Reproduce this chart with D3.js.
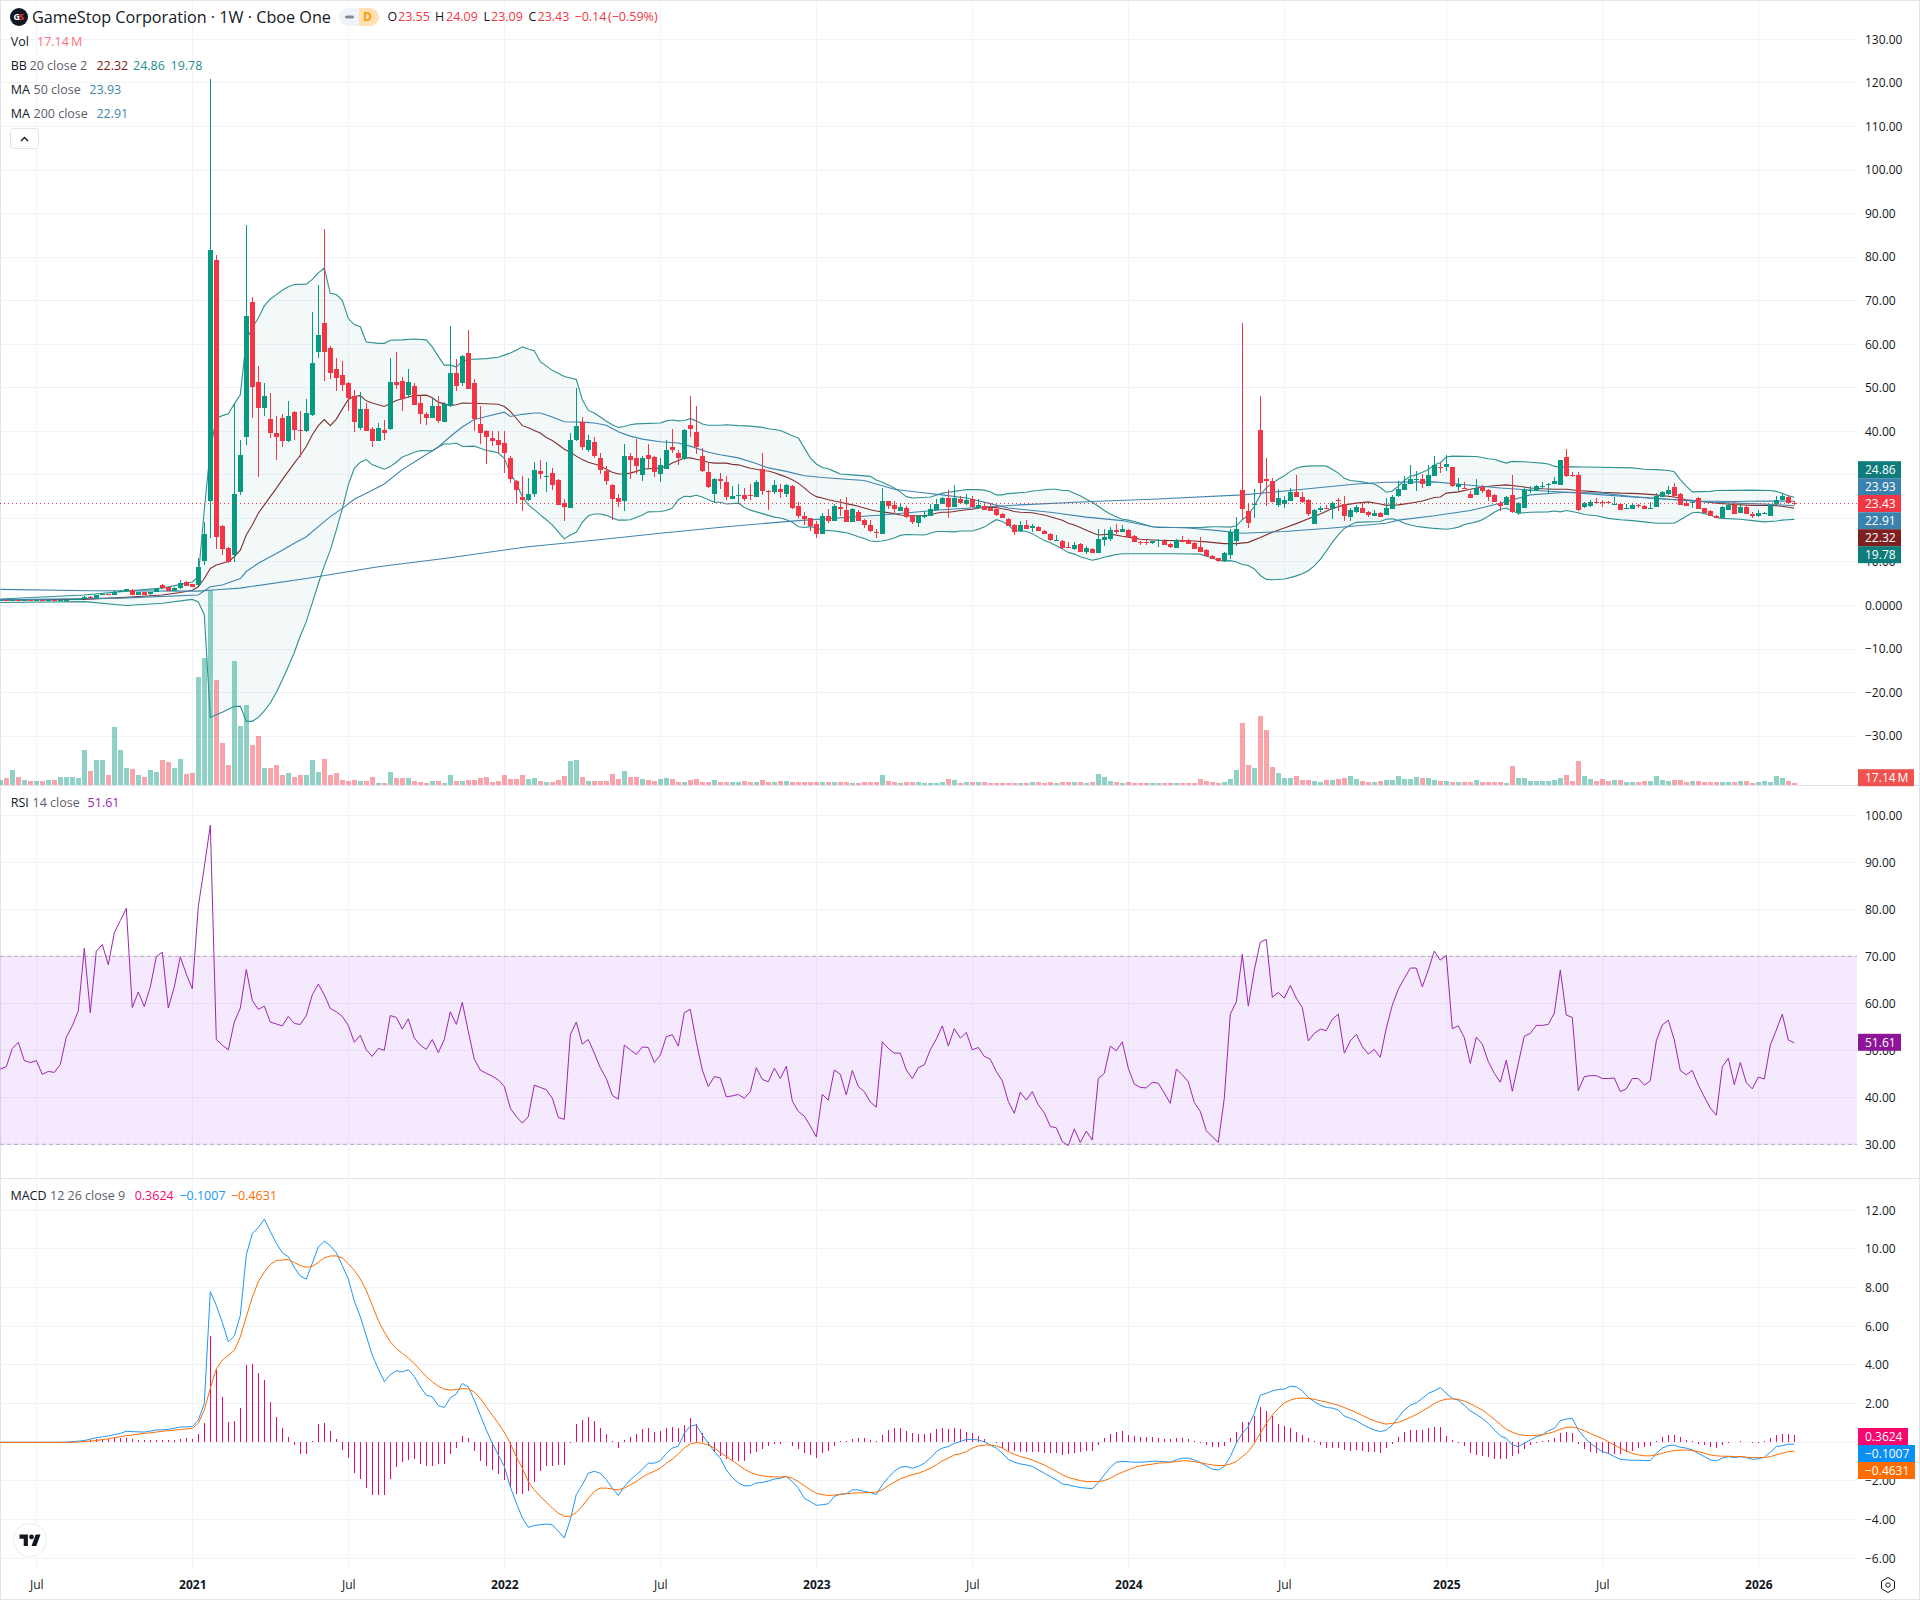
<!DOCTYPE html>
<html>
<head>
<meta charset="utf-8">
<script src="https://cdn.jsdelivr.net/npm/d3@7"></script>
<style>
    html, body { margin: 0; background: #fff; }
    text { font-family: "Open Sans", sans-serif; }
</style>
</head>
<body>
<div id="wrapper"></div>
<script>
// weekly bars, Monday dates
const firstWeek = "2020-05-25"
const lastWeek = "2026-02-16"

const tickDates = ["2020-07-06","2021-01-04","2021-07-05","2022-01-03","2022-07-04","2023-01-02","2023-07-03","2024-01-01","2024-07-01","2025-01-06","2025-07-07","2026-01-05"]
const tickLabels = ["Jul","2021","Jul","2022","Jul","2023","Jul","2024","Jul","2025","Jul","2026"]

const priceGrid = [130,120,110,100,90,80,70,60,50,40,30,20,10,0,-10,-20,-30]
// 30 and 20 sit fully behind the value tags
const priceTicks = [130,120,110,100,90,80,70,60,50,40,10,0,-10,-20,-30]
const rsiTicks = [100,90,80,70,60,50,40,30]
const macdTicks = [12,10,8,6,4,2,-2,-4,-6]
const macdGrid = [12,10,8,6,4,2,0,-2,-4,-6]

// open, high, low, close per week
const ohlc = [
[1.15,1.3,1.05,1.2],[1.2,1.3,1.1,1.15],[1.15,1.35,1.1,1.3],[1.3,1.35,1.15,1.2],[1.2,1.3,1.15,1.25],[1.25,1.3,1.1,1.15],[1.15,1.3,1.1,1.2],[1.2,1.25,1.05,1.1],[1.1,1.2,1.05,1.15],[1.15,1.2,1.05,1.1],
[1.1,1.3,1.05,1.25],[1.25,1.4,1.2,1.35],[1.35,1.5,1.3,1.4],[1.4,1.5,1.3,1.45],[1.45,2.1,1.4,1.9],[1.9,2.1,1.6,1.7],[1.7,2.5,1.6,2.4],[2.4,2.7,2.3,2.6],[2.6,2.75,2.35,2.45],[2.5,3.5,2.4,3.2],
[3.2,3.5,3,3.4],[3.3,3.8,3.2,3.7],[3.6,3.8,2.4,2.5],[2.5,3.1,2.4,3],[3.05,3.2,2.4,2.5],[2.55,3.2,2.4,3.15],[3.1,4,3,3.9],[4.7,4.9,3.9,4],[4.2,4.3,3.3,3.4],[3.4,4.2,3.3,4],
[4,5.8,3.8,5.2],[5.5,5.7,4.4,4.5],[4.9,5,4.2,4.3],[4.7,10.8,4.5,8.8],[10.3,19.1,9.2,16.4],[24.1,120.9,15.4,81.6],[79.3,80.6,12.9,15.8],[18.3,18.4,11.6,13],[13.3,13.5,9.7,10],[11.6,46.4,10,25.6],
[26.1,38.1,25.3,34.6],[38.6,87.3,36.8,66.4],[69.6,70.9,43.1,50.1],[51.4,54.9,29.4,45.3],[45.3,51.1,43.6,48],[42.9,48.9,38.4,39.5],[39.7,43.6,33.3,38.6],[43.1,44,36.3,37.7],[37.7,47,37.5,43.6],[44.5,44.6,38.1,40.2],
[40.4,44.7,34.2,40],[40,47.5,39.9,44.3],[43.8,67.3,43.6,55.6],[58.3,73.7,56.9,62.2],[64.8,86.4,51.6,58.3],[59.2,59.7,52.1,53.5],[54.4,56.9,49.3,52.3],[53,56.2,49.3,50.7],[51.2,51.4,44.6,47.7],[48,49.6,39.8,42.2],
[40.8,49.1,40.4,45.2],[45.2,46.5,40,40.1],[40.6,41.1,36.5,37.8],[37.8,41.9,37.7,40.8],[40.4,42.7,37.9,39.7],[40.6,56.9,40.4,51.4],[51.4,58.1,49.8,50.7],[51.6,52.5,44.7,47.5],[48.4,54.4,47.7,51.4],[50.3,51,46,46.1],
[46.6,48.2,41.7,44],[44,44.4,41.5,43.1],[43.1,47.7,43,45.9],[45.9,48.2,41.9,42.4],[42.2,46.7,42.1,46.3],[45.7,64.1,45.6,53.5],[53.3,56.5,49.3,50.5],[51,57.6,50.5,57.4],[57.9,63.2,49.7,49.8],[51.2,52.1,40,42.9],
[41.7,45.7,37.1,39.7],[40.1,40.4,32.5,38.8],[38.5,40.1,36.7,37.8],[38.1,40.1,35,36.9],[37.4,40.1,30.5,35.1],[33.9,34.4,28.1,29.1],[28.5,28.9,23.5,26.6],[25,29.8,21.8,24.3],[24.3,29.3,23.9,25.6],[25.7,33,24.9,31.2],
[31,33.3,29.1,30.3],[29.7,33,26.1,29.8],[30.5,31.6,26.6,27.7],[28.9,29,23,23.1],[23.6,24.5,19.4,22.7],[22.4,39.7,22.3,38.1],[37.9,50,37.8,41.3],[42.1,43.4,35.6,36.5],[35.8,39.2,35.3,37.9],[37.6,38.6,33.9,34.4],
[33.9,35.1,30.3,31.2],[31,32.1,27.7,28.7],[27.7,27.8,19.7,24.5],[24.7,25.7,22.7,23.8],[24,37.2,21.7,34.4],[34.4,35.1,29.1,33.3],[33.9,38.3,30.3,32.1],[30,34.4,28.7,33.9],[34.6,37.2,31.4,33.7],[34.2,34.4,29.6,30.7],
[30.3,33.9,28.4,32.3],[31.4,38.1,31.3,35.6],[36.5,40.6,35.1,35.8],[35.1,35.6,32.3,33.9],[33.7,40.6,33.5,40.2],[41.5,48.2,38.8,40.6],[39.9,45.7,34.9,36.5],[34.4,36.2,30.7,31],[30.7,32.8,27,27.3],[25.7,29.2,23.6,29.1],
[29.1,30.5,26.8,28.7],[28.4,29.8,24.3,25],[24.5,27.5,24.4,25.2],[25.3,28,23.4,25.4],[25.4,27,24,24.5],[25.4,28,24.3,25.3],[25,28.9,24.9,28.4],[31.4,35.1,25.4,26.4],[26.4,26.5,22,26.1],[26.1,28.9,25.7,27.7],
[26.8,28,24.8,26.1],[25.7,27.8,25,27.7],[27.5,27.6,22.2,22.4],[22.9,23.8,20.1,20.6],[20.6,21.5,18.5,19.9],[20.1,20.2,17.2,18.3],[18.8,19.4,15.5,16.5],[16.5,21.3,16.4,20.6],[20.6,22.2,19,19.4],[19.4,23.4,19.3,22.9],
[22.7,24.5,20.6,22.2],[22,25,19.1,19.2],[19.2,22.4,19.1,22.2],[21.5,22,19.3,19.4],[19.7,19.9,17.8,18.5],[18.5,19.7,16.9,17.1],[16.9,17.6,15.5,16.8],[16.5,27,16.4,24],[24,24.1,22.2,22.9],[23.1,24,21.1,22.2],
[21.7,23.4,21.6,22.7],[22.4,22.9,20.1,20.4],[20.6,20.7,18.8,19.2],[19,20.8,18.1,20.6],[20.4,21.7,20.1,20.8],[20.6,23.4,20.5,22.2],[22,24.5,21.9,23.4],[23.4,25,23.3,24.7],[24.7,26.6,20.1,22.7],[22.7,27.7,22.6,24.7],
[24.5,25.2,23.5,23.6],[23.4,25.7,23.1,24.3],[24.5,25.2,22.6,22.7],[22.4,24.5,22.2,23.1],[22.9,23.8,21.9,22],[22.4,23.6,21.6,21.7],[22.2,23.1,20.6,20.8],[21.1,21.3,20,20.1],[19.9,20.1,18.2,18.3],[18.5,18.8,16.2,16.9],
[17.2,19.4,16.9,18.5],[18.5,19.7,17.5,17.6],[17.9,18.8,16.9,18.3],[18,18.3,17.1,17.2],[17.2,17.3,16.4,16.5],[16.4,16.6,14.9,15.1],[15,16.2,14.9,15.1],[14.8,15.1,13,13.2],[13.5,14.6,13.1,13.2],[13,14.6,12.8,13.9],
[14.2,14.3,12.2,12.3],[12.3,13.7,11.9,13.2],[13,13.2,12,12.1],[12.1,17.6,12,15.3],[15.1,17.6,13.7,15.8],[15.3,18.1,14.9,17.4],[17.4,18.8,16.5,16.9],[16.9,18.5,16.8,17.6],[17.4,17.5,15.5,15.8],[16,16.2,14.5,14.6],
[14.6,14.8,13.9,14.4],[14.6,15.1,13.9,14.4],[14.4,14.9,14.2,14.9],[14.9,15.3,13.5,15],[14.9,15.3,13.8,13.9],[14.2,14.3,13.2,13.5],[13.2,15.3,13.1,15.1],[15.1,16,14.5,14.6],[15.1,15.3,14.1,14.2],[14.4,14.5,12.9,13],
[13.5,15.8,12.2,12.3],[12.8,12.9,11.2,11.4],[11.4,11.5,10.6,10.7],[10.9,11,10,10.2],[10.2,12.3,10,12.1],[11.6,17.6,10.7,16.9],[14.9,20.4,13.7,17.6],[26.6,64.9,19.9,22.2],[21.8,23.6,17.8,19],[23.2,26.8,20.1,23.4],
[40.4,48.2,25.4,28.2],[29.1,33.9,22.9,28.7],[28.7,29.3,23.7,23.8],[23.1,26.8,22.7,24.7],[23.4,25.2,22.4,24.3],[24,27,23.9,26.1],[26.1,30,24.9,25],[25,26.1,23.6,23.8],[24.3,24.4,20.6,21.1],[18.8,22.2,18.7,22],
[21.9,22.9,21.5,22.4],[22.5,23.1,22.2,22.4],[22.2,23.7,19.9,23.6],[24.3,24.7,21.8,23.9],[23.4,25.2,19.5,20.6],[20.4,22.4,19.5,22],[21.5,23.1,21.3,22.7],[22.4,23.8,21.2,21.3],[21.5,21.8,20.4,20.8],[20.6,22,20.5,21.3],
[21.3,21.4,20.3,20.4],[20.8,24.7,20.7,22.4],[22.2,25.4,22.1,25],[25.2,28.7,25,26.8],[26.6,29.8,26.5,28],[28,32.3,27.9,29.1],[28.9,31,26.4,29.1],[29.1,30.3,27,28],[27.5,32.3,27.4,30],[29.8,34.4,29.7,32.3],
[31.9,33,30.5,31.7],[31.7,34.6,31,32.6],[31.7,31.8,27.3,27.5],[27.3,29.3,26.4,28],[27,28.4,26.8,26.9],[25.7,26.4,24.7,24.8],[25.4,29.1,25.3,27],[27.3,27.7,25.9,26.4],[26.6,26.7,24.1,25],[25.4,25.7,23.7,23.8],
[23.6,24.1,21.8,22.9],[23.1,25.1,23,25],[25.4,30,21.3,21.5],[21.3,23.8,20.8,23.6],[22.4,27.3,22.3,26.6],[26.4,27.5,25.9,26.6],[26.4,27.6,26.3,27.5],[27.3,28.4,26.8,27.4],[27.7,28.2,25.9,27.8],[28,29.6,27.9,28.7],
[27.7,33.3,27.6,33.3],[34.2,36,29.4,29.8],[30,30.7,29.4,29.8],[30,30.7,21.8,22],[22.7,23.8,22.4,23.6],[22.9,24.3,22.7,23.8],[23.8,24.8,23.3,23.7],[23.8,24.3,22.7,23.7],[23.8,24.1,23.3,23.7],[23.2,25,23.1,23.4],
[23.4,23.6,22,22],[22.3,23.4,22.2,22.4],[22.2,23.2,22.1,23.1],[23.1,23.4,22.4,22.9],[22.9,23.1,22.2,22.2],[22.3,23.8,22.2,22.5],[22.7,25.9,22.6,25.2],[25,26.4,24.9,26.1],[25.7,27.5,25.4,26.6],[27.3,28.2,25.2,25.2],
[25.7,25.9,23,23.1],[23.6,24.1,22.8,22.9],[23.6,24.1,22.4,23.8],[24.8,24.9,22.2,22.2],[22.4,22.5,21.3,21.3],[21.8,22,20.6,20.6],[20.6,20.8,20.1,20.1],[20.1,22.9,20,22.7],[22,23.6,21.9,23.1],[23.1,24.1,21.1,21.1],
[21.3,23.4,21.2,22.7],[22.7,22.9,21.1,21.1],[21.1,21.5,20.1,20.6],[20.6,22,20.4,21.3],[21.1,21.5,20.9,21.3],[20.6,23.4,20.5,23.1],[23.4,25.2,23.1,24.3],[24.3,25.9,24,25.2],[25,25.3,23.4,23.6],[23.55,24.09,23.09,23.43]
]

// millions of shares
const volumes = [
36,54,113,58,40,33,33,33,40,40,65,58,65,54,265,109,189,189,76,443,
265,134,120,80,65,113,102,189,174,134,196,87,94,828,973,1499,809,319,156,951,
454,617,309,374,127,127,156,80,94,58,73,73,189,102,203,80,94,40,33,40,
33,33,65,18,18,102,51,51,51,33,25,18,33,33,18,73,33,33,40,40,
51,58,22,33,77,46,46,77,46,56,31,26,26,38,69,184,192,61,31,31,
31,31,84,46,108,61,61,46,38,31,46,54,46,26,26,38,46,26,26,38,
26,23,20,23,31,26,23,38,26,23,28,28,26,20,23,23,23,23,26,23,
20,20,18,18,23,20,20,77,28,20,18,20,20,20,18,18,18,20,46,38,
18,20,20,20,20,18,18,18,18,18,18,18,23,26,18,23,18,23,23,20,
23,18,23,84,61,31,23,18,20,18,15,15,15,18,15,15,15,15,18,18,
46,31,26,15,26,46,115,479,154,131,530,422,138,92,54,54,69,38,38,31,
26,38,38,46,54,69,46,31,26,20,31,38,38,69,46,46,61,54,54,38,
31,31,26,26,26,26,38,26,26,26,26,18,146,54,54,31,31,31,31,38,
54,77,31,184,69,46,31,46,31,38,38,23,23,26,31,31,69,38,31,38,
38,23,31,31,23,23,23,26,26,26,31,31,15,23,31,23,69,54,31,17.14
]

// week index, value
const bbUpper = [[0,1.5],[14,2.4],[21,3.3],[27,4],[32,5.4],[33,6.6],[34,22],[35,35.8],[36,43],[37,43.6],[38,44],[39,46.3],[40,48.4],[41,61],[42,63.8],[43,66],[44,68.8],[45,70.4],[46,71.4],[47,72.4],[48,73.2],[49,73.7],[51,73.8],[52,74.9],[53,76.4],[54,77.5],[55,71.7],[56,71.4],[57,70.1],[58,65.9],[59,64.5],[60,64],[61,60.5],[63,60.2],[64,60.2],[65,60.9],[67,61],[69,61.2],[71,61],[72,59.4],[73,57.2],[74,55.2],[75,55.2],[76,54.8],[77,56.1],[78,56.5],[81,56.7],[83,57],[84,57.5],[85,58],[86,58.6],[87,59.4],[88,58.9],[89,58.5],[90,56],[92,54],[94,52.6],[96,51.9],[97,47.3],[98,44.8],[99,44.2],[100,43.3],[101,42.3],[102,41.5],[103,40.9],[104,41.1],[105,41.5],[106,41.7],[110,41.9],[111,42.4],[112,42.6],[113,42.4],[114,42.5],[115,42.9],[116,42.4],[117,41.7],[118,41.4],[120,41.4],[121,41.5],[123,41.3],[125,41.2],[127,40.9],[128,40.6],[129,40.4],[130,40.2],[131,39.6],[132,39],[133,38.5],[134,36.2],[135,33.9],[136,32.5],[137,31.7],[138,31.4],[139,30.8],[140,30.2],[142,30],[145,29.65],[146,28.8],[147,28.3],[148,27.7],[149,27],[150,26.1],[151,25],[152,24.7],[155,24.9],[156,25.3],[157,25.8],[158,26],[159,26.2],[160,26.4],[161,26.6],[163,26.6],[164,26.5],[165,26.1],[166,25.4],[167,25.4],[168,25.7],[169,25.8],[171,26],[172,26.3],[173,26.4],[175,26.7],[176,26.7],[177,26.4],[178,26.4],[179,25.8],[180,25.2],[181,24.4],[182,23.7],[183,22.8],[184,21.8],[185,21],[186,20.4],[187,19.8],[188,19.6],[189,19.3],[190,18.9],[191,18.5],[192,18.1],[193,17.9],[200,17.9],[201,18],[202,18.1],[203,18.1],[205,18],[206,18.3],[207,19.7],[208,20.8],[209,22.8],[210,25.4],[211,27],[212,28.1],[213,29],[214,29.8],[215,30.8],[216,31.5],[217,31.9],[218,32],[220,32.1],[221,32],[222,31.3],[223,30.4],[224,29.2],[225,28.7],[227,28.4],[228,28.1],[229,27.9],[230,27.1],[231,26],[232,26.3],[233,27.4],[234,28.7],[235,29.7],[236,30],[237,30.6],[238,31.2],[239,32.3],[240,32.8],[241,34.1],[242,34.3],[246,34.2],[247,34],[248,33.7],[249,33.6],[250,33.1],[251,32.7],[252,33.1],[254,33],[255,32.9],[257,32.7],[258,32.5],[259,32],[260,31.7],[261,31.9],[264,31.8],[272,31.6],[274,31.3],[276,31.2],[278,31],[279,30.7],[280,28.9],[281,27.4],[282,26.1],[285,26.2],[286,26.4],[292,26.5],[295,26.4],[296,26.2],[297,25.8],[298,25.2],[299,24.86]]

const bbBasis = [[0,1.3],[14,1.4],[21,1.9],[27,2.4],[30,3],[32,3.5],[33,4.3],[34,6.2],[35,8.5],[36,9.3],[37,9.7],[38,10.1],[39,11.2],[40,12.7],[41,16.2],[42,18.5],[43,21.2],[44,23.1],[45,25],[46,26.9],[47,28.9],[48,30.8],[49,32.7],[50,34.5],[51,36.5],[52,39.2],[53,41.3],[54,42.7],[55,41.3],[56,42.8],[57,45.1],[58,47.3],[59,48],[60,48.2],[61,47],[62,46.5],[63,46.1],[64,45.7],[65,46.4],[66,47.1],[67,47.5],[68,47.9],[69,48.2],[71,48.3],[72,47.7],[73,46.7],[74,46.3],[75,45.9],[76,46.1],[77,46.5],[80,46.4],[83,46.2],[84,45.7],[85,44.6],[86,43],[87,41.3],[88,40.8],[89,40.2],[90,39.6],[91,38.6],[92,37.9],[93,36.9],[94,35.9],[95,35.2],[96,34.3],[97,33.5],[98,32.9],[99,32.5],[100,32.1],[101,31.3],[102,30.6],[103,30.2],[104,30.2],[105,30.4],[106,30.8],[107,31.3],[110,31.6],[111,32],[112,32.7],[113,33.3],[114,33.9],[115,33.9],[116,33.6],[117,33.3],[118,32.9],[119,32.7],[121,32.7],[122,32.4],[123,32.3],[124,31.9],[125,31.5],[126,31.3],[127,31],[128,30.9],[129,30.5],[130,30],[131,29.5],[132,28.9],[133,28.1],[134,27],[135,25.8],[136,25],[137,24.7],[138,24.3],[139,24],[140,23.7],[141,23.4],[142,23.1],[143,22.8],[144,22.4],[145,22],[146,21.7],[147,21.5],[149,21.1],[150,20.8],[151,20.6],[153,20.6],[155,20.8],[156,21.2],[157,21.4],[158,21.4],[159,21.6],[160,21.8],[161,22],[162,22.1],[163,22.4],[164,22.6],[166,22.5],[167,22.2],[168,22],[169,21.6],[170,21.4],[172,21.3],[173,21],[174,20.8],[175,20.4],[176,20],[177,19.6],[178,18.9],[179,18.5],[180,17.9],[181,17.3],[182,16.7],[183,16.2],[185,16.4],[187,15.9],[188,15.7],[190,15.2],[193,15],[196,14.9],[199,14.8],[201,14.6],[204,14.2],[206,14.2],[208,14.5],[210,15.6],[212,16.8],[214,17.8],[216,18.8],[218,19.9],[220,21],[222,22.3],[224,23.1],[226,23.5],[228,23.8],[230,23.3],[231,23],[233,23.1],[235,23.5],[237,24],[239,24.8],[240,24.9],[241,25.8],[243,26.1],[245,26.7],[247,27.2],[249,27.5],[251,27.7],[253,27.4],[255,27],[257,26.8],[259,26.7],[261,26.7],[263,26.4],[265,26.2],[267,26],[270,25.8],[273,25.7],[276,25.4],[279,24.9],[281,24.3],[283,24],[286,23.5],[289,23.2],[292,23],[295,23],[297,22.8],[299,22.32]]

const bbLower = [[0,0.7],[14,0.9],[21,0],[27,0.5],[32,1.4],[33,0.8],[34,-2.1],[35,-25.7],[36,-25.1],[37,-24.5],[38,-23.8],[39,-23.2],[40,-23.1],[41,-26.6],[42,-26.6],[43,-25.7],[44,-24.2],[45,-22.4],[46,-20],[47,-17.1],[48,-14],[49,-10.8],[50,-7],[51,-3.7],[52,0.6],[53,5],[54,9.1],[55,12.7],[56,17.3],[57,22.2],[58,27.7],[59,31.5],[60,32.9],[61,33.5],[62,32.3],[63,31.8],[64,31.3],[65,31.9],[66,32.9],[67,34.1],[68,34.6],[69,35.2],[70,35.6],[72,35.5],[73,36.4],[74,37.1],[75,37.1],[76,37.3],[77,36.5],[79,36.6],[80,36.1],[81,35.6],[82,35.4],[83,35],[84,33.8],[85,30.4],[86,28.1],[87,25],[88,23.1],[89,22],[90,20.8],[91,19.7],[92,18.5],[93,16.9],[94,15.3],[95,16.2],[96,16.8],[97,19.1],[98,20.6],[99,21],[100,21],[101,20.7],[102,20.1],[103,19.6],[104,19.6],[105,19.7],[106,20.2],[107,20.8],[108,21.5],[110,21.6],[111,21.8],[112,22.4],[113,24.3],[114,25.1],[115,25],[116,25.3],[117,24.9],[118,24.3],[119,23.7],[120,23.7],[121,23.3],[123,23.5],[124,22.5],[125,21.9],[126,21.5],[127,21.1],[128,20.7],[129,20.3],[130,20.1],[131,19.7],[132,19.1],[133,18.1],[134,17.9],[135,18.1],[136,17.8],[137,17.3],[139,17.1],[140,16.9],[141,16.7],[142,16.3],[143,15.8],[144,15.4],[145,14.8],[146,14.7],[147,14.8],[148,15.1],[149,15.5],[150,16.1],[151,16.3],[154,16.2],[155,16.6],[156,17],[157,17],[159,16.9],[160,17.1],[162,17.1],[163,17.5],[164,18],[165,18.9],[166,19.7],[167,19.3],[168,18.5],[169,17.2],[171,17],[172,16.5],[173,15.7],[174,14.9],[175,14.4],[176,13.7],[177,13],[178,12.2],[179,11.8],[180,11.2],[181,10.8],[182,10.4],[183,10.7],[184,11.1],[185,11.4],[186,11.7],[187,11.9],[196,11.9],[200,11.8],[201,11.3],[202,10.9],[203,10.4],[204,10.2],[205,10.3],[206,10],[207,9.4],[208,9.2],[209,8.4],[210,6.9],[211,6],[212,5.9],[214,6.1],[215,6.4],[216,6.8],[217,7.3],[218,8],[219,9.1],[220,10.6],[221,12.5],[222,14.5],[223,16.2],[224,17.7],[225,18.5],[226,19.1],[228,19.2],[230,19.3],[231,19.8],[232,19.9],[233,19.5],[234,18.9],[235,18.5],[236,18.2],[237,18],[239,17.7],[241,17.5],[242,17.7],[243,18],[244,18.6],[245,18.9],[246,19.2],[247,19.7],[248,20.5],[249,21.4],[250,22.1],[251,22.4],[252,21.7],[253,21.2],[255,21.4],[258,21.5],[259,21.7],[260,21.5],[261,21.8],[263,21.3],[264,20.9],[266,20.6],[268,20],[270,19.7],[272,19.5],[274,19.2],[276,18.9],[279,18.9],[280,19.7],[281,20.5],[282,21.3],[283,21.4],[284,21.1],[285,20.8],[286,20.2],[287,20],[290,19.8],[292,19.5],[294,19.2],[296,19.4],[297,19.6],[298,19.7],[299,19.78]]

const ma50 = [[0,1.3],[20,1.7],[33,2.4],[34,3.4],[35,4.3],[37,4.7],[38,5.2],[39,5.7],[40,6.2],[41,7.8],[43,9.7],[45,11.2],[47,12.7],[49,14.3],[51,15.8],[53,18.1],[55,20.4],[57,22.3],[59,24.4],[61,25.8],[64,27.9],[67,31.2],[70,33.8],[73,36.4],[75,38.8],[77,41],[79,42.7],[81,43.4],[84,44.4],[85,43.4],[87,43.9],[89,44.2],[90,44.2],[92,43.3],[94,42.2],[97,42.1],[99,41.9],[101,41.4],[103,39.9],[105,38.9],[107,38.2],[110,37.6],[113,37.3],[115,36.6],[118,35.2],[120,34.6],[123,33.9],[126,32.6],[128,31.6],[131,30.8],[134,29.8],[137,29.4],[141,29],[144,28.7],[147,27.5],[149,26.7],[153,26],[157,25.4],[161,24.7],[165,23.4],[168,22.4],[170,22.1],[175,21.4],[181,20.3],[187,19.5],[192,18.1],[198,17.8],[203,17.2],[207,16.6],[214,17],[222,17.8],[231,18.9],[233,19.6],[239,20.6],[245,21.8],[250,23.5],[255,25.4],[261,26],[267,25.8],[272,25],[278,24.4],[283,24],[289,23.9],[294,24],[299,23.93]]

const ma200 = [[0,3.7],[15,3.4],[33,3.3],[36,3.6],[40,4],[51,6.2],[63,8.9],[74,10.8],[88,13.5],[99,15],[110,16.6],[121,18.1],[133,19.5],[147,20.8],[157,22],[170,23.1],[182,23.9],[192,24.4],[207,25.4],[215,26.4],[226,27.9],[231,28.3],[239,28.4],[245,27.6],[250,27],[256,26.4],[261,26],[267,25.4],[272,24.9],[278,24.4],[283,23.9],[289,23.5],[294,23.3],[299,22.91]]

const rsi = [
46,46.5,50.4,51.7,47.8,47.4,47.8,44.9,45.5,45.3,47,52.8,55.2,58.4,71.7,58,71.1,72.5,68.2,75,
77.6,80.2,59.1,62.4,59.3,63.5,69.9,70.9,59,63.5,69.9,66.2,63.1,80.6,89,97.9,52.3,51.1,50.1,56,
59,67.2,60.6,58.7,59.4,56,55.6,55.2,57.2,55.7,55.5,57.4,61.8,64.1,61.8,58.9,58.2,57.2,55.3,51.7,
53.2,50.1,48.7,50.4,50,57.4,57,54.5,56.7,52.6,51.1,50.2,52.3,49.5,52.3,58.2,55.5,60.2,54,48.1,
45.8,45.1,44.5,43.7,42.3,37.7,35.9,34.5,35.9,42.6,42.1,41.6,39.8,35.7,35.3,53.3,56,51.3,52.3,49.4,
46.3,44,40.4,39.6,51.1,50.1,49.1,50.7,50.6,47.4,49,52.9,53.3,50.9,58,58.7,51.8,45.8,42.3,44.4,
44.1,40.1,40.3,40.6,39.8,41.2,46.3,43.8,43.3,46.2,44,46.6,39.2,37,36,33.9,31.6,40.6,39.4,45.8,
44.9,40.5,45.7,42.3,41.2,39,37.9,51.8,50.4,49.4,49.4,45.8,44,46.3,46.9,50.1,52.4,55.2,50.9,54.6,
52.6,53.8,50.1,50.6,48.7,48.1,45.5,43.5,39.1,36.6,41.1,39.4,41.2,38.4,36.7,33.8,33.5,30.6,29.7,33.3,
30.4,32.8,30.9,44,45.1,50.9,49.9,51.8,46.2,42.8,42.1,42,43.2,43,40.9,38.7,46,44.8,43.3,38.9,
37,32.9,31.6,30.4,39.8,57.7,60.3,70.4,59.4,67.1,73,73.6,61.3,62.3,61.1,63.8,61.1,59.1,52,53.6,
54.5,54.2,56.6,57.7,49.4,52,53.4,50.8,49.2,50.2,48.5,54.7,59.6,63,65.3,67.5,67.5,63.5,67.1,71.1,
69.2,70.2,54.6,55.2,52.7,47.2,52.8,51.3,47.6,45.1,43.2,47.9,41.3,47.2,53,53.6,55.3,55.3,55.5,57.9,
67.1,57.5,57,41.4,44.4,44.6,44.6,44,44,44.1,41.2,41.8,44,44,42.6,43.5,52,55.4,56.4,52.2,
45.7,44.8,45.7,42.6,40.1,37.7,36.2,46.5,48.3,42.7,47.4,43.1,41.8,44.3,43.9,51.1,54.3,57.7,52.2,51.61
]
const rsiBand = [70, 30]

const macd = [
0,0,0,0,0,0,0,0,0,0,0,0.01,0.03,0.06,0.09,0.16,0.24,0.28,0.33,0.4,
0.46,0.57,0.55,0.54,0.53,0.58,0.64,0.65,0.67,0.73,0.79,0.8,0.81,1.15,2,7.8,7.08,6.2,5.2,5.5,
6.56,9.7,10.8,11.1,11.55,10.9,10.3,9.8,9.6,9.05,8.6,8.44,9.26,10.1,10.4,10.17,9.8,9.14,8.45,7.3,
6.5,5.5,4.5,3.8,3.14,3.5,3.7,3.64,3.76,3.4,2.87,2.44,2.35,1.9,1.8,2.3,2.5,3.04,2.87,2.18,
1.4,0.64,-0.05,-0.65,-1.25,-2.3,-3.14,-3.9,-4.4,-4.3,-4.26,-4.23,-4.26,-4.6,-4.95,-4,-2.7,-2.2,-1.6,-1.5,
-1.6,-1.94,-2.37,-2.75,-2.3,-1.94,-1.68,-1.4,-1.08,-1.08,-0.95,-0.57,-0.3,-0.2,0.46,0.84,0.9,0.38,-0.05,-0.48,
-0.82,-1.43,-1.82,-2.1,-2.25,-2.25,-2.1,-2.08,-2,-1.9,-1.86,-1.77,-2.03,-2.37,-2.9,-3.06,-3.26,-3.23,-3.18,-2.8,
-2.68,-2.66,-2.46,-2.46,-2.54,-2.6,-2.7,-2.2,-1.82,-1.5,-1.29,-1.25,-1.34,-1.25,-1.08,-0.82,-0.48,-0.3,-0.22,-0.05,
0.03,0.15,0.15,0.12,0.03,-0.14,-0.3,-0.57,-0.88,-1.03,-1.12,-1.17,-1.25,-1.43,-1.6,-1.77,-1.94,-2.15,-2.2,-2.28,
-2.34,-2.37,-2.4,-2.08,-1.68,-1.3,-1.03,-0.98,-1.01,-1.03,-1.03,-1.01,-0.98,-0.98,-1,-1.03,-0.91,-0.82,-0.82,-0.91,
-1.05,-1.22,-1.39,-1.43,-1.25,-0.74,-0.05,0.46,0.81,1.5,2.44,2.53,2.66,2.73,2.75,2.9,2.87,2.66,2.32,2.1,
1.92,1.8,1.77,1.67,1.36,1.24,1.12,0.93,0.77,0.64,0.55,0.64,0.89,1.29,1.67,1.92,2.04,2.27,2.53,2.66,
2.83,2.53,2.27,2.18,1.92,1.62,1.44,1.24,0.98,0.64,0.34,0.2,-0.14,-0.22,-0.05,0.12,0.29,0.38,0.6,0.72,
1.12,1.2,1.24,0.64,0.26,-0.05,-0.27,-0.48,-0.57,-0.74,-0.88,-0.91,-0.93,-0.93,-0.95,-0.95,-0.57,-0.3,-0.17,-0.15,
-0.26,-0.3,-0.4,-0.57,-0.74,-0.91,-0.96,-0.82,-0.74,-0.79,-0.74,-0.79,-0.88,-0.86,-0.77,-0.52,-0.22,-0.17,-0.1,-0.1007
]

const macdSignal = [
0,0,0,0,0,0,0,0,0,0,0,0,0,0.02,0.04,0.06,0.09,0.14,0.18,0.24,
0.29,0.34,0.38,0.42,0.46,0.49,0.53,0.57,0.6,0.63,0.66,0.69,0.72,0.98,1.67,2.8,3.8,4.25,4.5,4.76,
5.45,6.5,7.5,8.3,8.8,9.2,9.4,9.43,9.45,9.3,9.14,9.05,9.1,9.3,9.54,9.64,9.64,9.54,9.23,8.9,
8.45,7.85,7.08,6.3,5.7,5.2,4.85,4.6,4.36,4.07,3.73,3.4,3.13,2.9,2.75,2.7,2.73,2.78,2.76,2.6,
2.27,1.84,1.4,0.98,0.52,-0.05,-0.74,-1.34,-2.03,-2.46,-2.8,-3.1,-3.4,-3.66,-3.83,-3.83,-3.63,-3.3,-2.9,-2.54,
-2.37,-2.37,-2.42,-2.46,-2.37,-2.2,-2.03,-1.8,-1.63,-1.5,-1.34,-1.08,-0.88,-0.6,-0.3,-0.09,-0.02,-0.05,-0.14,-0.3,
-0.53,-0.74,-0.95,-1.17,-1.39,-1.55,-1.67,-1.74,-1.77,-1.79,-1.79,-1.77,-1.86,-2.03,-2.25,-2.46,-2.63,-2.71,-2.75,-2.73,
-2.7,-2.66,-2.63,-2.61,-2.61,-2.6,-2.58,-2.46,-2.25,-2.06,-1.89,-1.77,-1.68,-1.6,-1.48,-1.34,-1.17,-0.96,-0.82,-0.65,
-0.6,-0.48,-0.3,-0.19,-0.14,-0.14,-0.19,-0.3,-0.48,-0.62,-0.74,-0.82,-0.91,-1.05,-1.17,-1.34,-1.5,-1.68,-1.82,-1.9,
-1.98,-2.03,-2.03,-2.03,-1.98,-1.86,-1.68,-1.55,-1.43,-1.3,-1.22,-1.17,-1.13,-1.08,-1.06,-1.03,-1,-0.96,-0.96,-1,
-1.05,-1.12,-1.17,-1.2,-1.2,-1.12,-1,-0.74,-0.48,-0.05,0.46,0.98,1.41,1.75,2.04,2.18,2.27,2.29,2.27,2.22,
2.15,2.08,2,1.92,1.8,1.67,1.53,1.39,1.24,1.12,1.01,0.94,0.98,1.03,1.15,1.29,1.44,1.62,1.8,2,
2.15,2.23,2.25,2.22,2.13,2,1.84,1.67,1.44,1.19,0.93,0.67,0.52,0.41,0.36,0.34,0.36,0.4,0.46,0.55,
0.67,0.77,0.79,0.72,0.6,0.46,0.33,0.2,0.03,-0.14,-0.3,-0.45,-0.57,-0.65,-0.7,-0.7,-0.65,-0.57,-0.48,-0.43,
-0.4,-0.4,-0.43,-0.48,-0.57,-0.65,-0.7,-0.72,-0.72,-0.74,-0.74,-0.77,-0.79,-0.79,-0.79,-0.74,-0.65,-0.57,-0.48,-0.4631
]

const macdHist = [
0,0.01,0.02,0.03,0.03,0,0,0,0,0,0.01,0.01,0.02,0.03,0.08,0.1,0.15,0.15,0.18,0.2,
0.2,0.22,0.17,0.12,0.1,0.1,0.14,0.13,0.1,0.12,0.15,0.2,0.15,0.43,1,5.5,3.75,2.35,1.05,1.1,
1.75,4,4.05,3.6,3.2,2.1,1.3,0.75,0.3,-0.15,-0.6,-0.6,0.05,0.95,1,0.6,0.15,-0.4,-0.8,-1.6,
-1.9,-2.35,-2.7,-2.7,-2.7,-1.9,-1.3,-1,-0.9,-0.85,-1.1,-1.2,-1.2,-1.1,-1.1,-0.6,-0.3,0.35,0.2,-0.45,
-0.95,-1.25,-1.45,-1.65,-1.95,-2.3,-2.65,-2.65,-2.5,-2.05,-1.5,-1.25,-1.2,-1.15,-1.15,-0.05,0.95,1.15,1.3,1.1,
0.75,0.45,0.05,-0.3,0.1,0.3,0.45,0.7,0.75,0.55,0.6,0.75,0.8,0.75,0.9,1.25,0.95,0.5,-0.2,-0.5,
-0.7,-0.85,-0.95,-0.95,-0.95,-0.6,-0.5,-0.35,-0.2,-0.1,-0.1,0.03,-0.2,-0.35,-0.55,-0.65,-0.8,-0.55,-0.45,-0.2,
0.05,0.08,0.15,0.2,0.2,0.1,0.05,0.4,0.65,0.75,0.75,0.6,0.5,0.45,0.45,0.5,0.7,0.75,0.7,0.75,
0.7,0.55,0.5,0.35,0.15,0.03,-0.03,-0.3,-0.45,-0.45,-0.5,-0.5,-0.5,-0.5,-0.55,-0.55,-0.55,-0.65,-0.6,-0.55,
-0.5,-0.45,-0.45,-0.15,0.2,0.45,0.55,0.6,0.4,0.35,0.3,0.3,0.25,0.2,0.18,0.15,0.2,0.2,0.15,0.05,
-0.05,-0.15,-0.25,-0.25,-0.2,0.2,0.55,1.05,1.05,1.35,1.85,1.6,1.35,0.95,0.85,0.75,0.55,0.4,0.2,0.05,
-0.15,-0.3,-0.3,-0.3,-0.4,-0.45,-0.4,-0.45,-0.5,-0.5,-0.55,-0.3,-0.1,0.25,0.55,0.65,0.65,0.65,0.75,0.78,
0.78,0.35,0.1,-0.05,-0.2,-0.55,-0.65,-0.7,-0.75,-0.85,-0.85,-0.85,-0.7,-0.6,-0.35,-0.15,-0.03,0.05,0.14,0.2,
0.5,0.55,0.5,-0.1,-0.35,-0.5,-0.55,-0.55,-0.6,-0.6,-0.6,-0.5,-0.45,-0.3,-0.25,-0.2,0.05,0.3,0.4,0.4,
0.25,0.1,0.05,-0.08,-0.15,-0.25,-0.3,-0.15,-0.05,0.02,0.05,0.03,-0.05,-0.05,0.05,0.2,0.4,0.45,0.42,0.3624
]

const upColor = "#089981"
const downColor = "#f23645"
const gridColor = "#f0f3fa"
const textColor = "#131722"
const mutedColor = "#5d606b"
const maColor = "#3f85ae"
const bandColor = "#2f9192"
const basisColor = "#80302f"

function drawChart() {
    let dimensions = {
        width: 1920,
        height: 1600,
        plotWidth: 1857,
        axisX: 1865,
        volumeBase: 785,
        rsiTop: 785,
        macdTop: 1178.5,
        plotBottom: 1570,
    }

    const svg = d3.select("#wrapper")
        .append("svg")
            .attr("width", dimensions.width)
            .attr("height", dimensions.height)
            .style("display", "block")

    const weeks = d3.utcMonday.range(new Date(firstWeek), d3.utcDay.offset(new Date(lastWeek), 1))

    // Scales
    const xScale = d3.scaleUtc()
        .domain([new Date(firstWeek), new Date(lastWeek)])
        .range([0.3, 1794.3])
    const xAt = i => xScale(weeks[i])

    const yPrice = d3.scaleLinear().domain([0, 130]).range([605.5, 39.4])
    const yVolume = d3.scaleLinear().domain([0, 1500]).range([785, 589.5])
    const yRsi = d3.scaleLinear().domain([30, 100]).range([1144.3, 815.3])
    const yMacd = d3.scaleLinear().domain([-6, 12]).range([1558.3, 1210.3])

    // Grid
    const grid = svg.append("g").attr("stroke", gridColor).attr("stroke-width", 1).attr("shape-rendering", "crispEdges")
    grid.selectAll(".vgrid").data(tickDates).join("line")
        .attr("x1", d => xScale(new Date(d))).attr("x2", d => xScale(new Date(d)))
        .attr("y1", 0).attr("y2", dimensions.plotBottom)
    const hgrid = (ticks, scale, name) => grid.selectAll("." + name).data(ticks).join("line")
        .attr("class", name)
        .attr("x1", 0).attr("x2", dimensions.plotWidth)
        .attr("y1", d => scale(d)).attr("y2", d => scale(d))
    hgrid(priceGrid, yPrice, "gp")
    hgrid(rsiTicks, yRsi, "gr")
    hgrid(macdGrid, yMacd, "gm")

    // Pane separators and frame
    const frame = svg.append("g").attr("stroke", "#e0e3eb").attr("shape-rendering", "crispEdges")
    frame.append("line").attr("x1", 0).attr("x2", 1920).attr("y1", dimensions.rsiTop).attr("y2", dimensions.rsiTop)
    frame.append("line").attr("x1", 0).attr("x2", 1920).attr("y1", dimensions.macdTop).attr("y2", dimensions.macdTop)
    frame.append("rect").attr("x", 0.5).attr("y", 0.5).attr("width", 1919).attr("height", 1599).attr("fill", "none")

    const lineFrom = (scale) => d3.line().x(d => xAt(d[0])).y(d => scale(d[1]))
    const priceLine = lineFrom(yPrice)

    // Bollinger fill
    svg.append("path")
        .attr("d", priceLine(bbUpper.concat(bbLower.slice().reverse())) + "Z")
        .attr("fill", "rgba(47,145,146,0.06)")

    // Volume
    svg.append("g").selectAll("rect").data(volumes).join("rect")
        .attr("x", (d, i) => xAt(i) - 2.5)
        .attr("width", 5)
        .attr("y", d => yVolume(d))
        .attr("height", d => yVolume(0) - yVolume(d))
        .attr("fill", (d, i) => ohlc[i][3] >= ohlc[i][0] ? "rgba(8,153,129,0.45)" : "rgba(242,54,69,0.45)")
        .attr("shape-rendering", "crispEdges")

    // Band and average lines under the candles
    const curves = [
        [bbUpper, bandColor], [bbLower, bandColor], [bbBasis, basisColor], [ma50, maColor], [ma200, maColor],
    ]
    svg.append("g").selectAll("path").data(curves).join("path")
        .attr("d", d => priceLine(d[0]))
        .attr("fill", "none")
        .attr("stroke", d => d[1])
        .attr("stroke-width", 1.1)

    // Candles
    const candles = svg.append("g").selectAll("g").data(ohlc).join("g")
        .attr("fill", d => d[3] >= d[0] ? upColor : downColor)
        .attr("shape-rendering", "crispEdges")
    candles.append("rect")
        .attr("x", (d, i) => Math.round(xAt(i)) - 0.5)
        .attr("width", 1)
        .attr("y", d => yPrice(d[1]))
        .attr("height", d => yPrice(d[2]) - yPrice(d[1]))
    candles.append("rect")
        .attr("x", (d, i) => Math.round(xAt(i)) - 2.5)
        .attr("width", 5)
        .attr("y", d => yPrice(Math.max(d[0], d[3])))
        .attr("height", d => Math.max(1, Math.abs(yPrice(d[0]) - yPrice(d[3]))))

    // Last price dotted line
    svg.append("line")
        .attr("x1", 0).attr("x2", dimensions.plotWidth)
        .attr("y1", yPrice(23.43)).attr("y2", yPrice(23.43))
        .attr("stroke", downColor).attr("stroke-dasharray", "1 3")

    // RSI pane
    svg.append("rect")
        .attr("x", 0).attr("width", dimensions.plotWidth)
        .attr("y", yRsi(rsiBand[0])).attr("height", yRsi(rsiBand[1]) - yRsi(rsiBand[0]))
        .attr("fill", "rgba(156,39,232,0.1)")
    svg.append("g").selectAll("line").data(rsiBand).join("line")
        .attr("x1", 0).attr("x2", dimensions.plotWidth)
        .attr("y1", d => yRsi(d)).attr("y2", d => yRsi(d))
        .attr("stroke", "#b9a6c4").attr("stroke-dasharray", "4 3")
    svg.append("path")
        .attr("d", d3.line().x((d, i) => xAt(i)).y(d => yRsi(d))(rsi))
        .attr("fill", "none").attr("stroke", "#9c27b0").attr("stroke-width", 1)

    // MACD pane
    svg.append("g").selectAll("rect").data(macdHist).join("rect")
        .attr("x", (d, i) => Math.round(xAt(i)) - 0.5)
        .attr("width", 1)
        .attr("y", d => Math.min(yMacd(d), yMacd(0)))
        .attr("height", d => Math.abs(yMacd(d) - yMacd(0)))
        .attr("fill", "#f2076f")
        .attr("shape-rendering", "crispEdges")
    const macdLine = d3.line().x((d, i) => xAt(i)).y(d => yMacd(d))
    svg.append("path").attr("d", macdLine(macd)).attr("fill", "none").attr("stroke", "#2196f3").attr("stroke-width", 1)
    svg.append("path").attr("d", macdLine(macdSignal)).attr("fill", "none").attr("stroke", "#ff6d00").attr("stroke-width", 1)

    // Axes
    const styleAxis = g => {
        g.select(".domain").remove()
        g.selectAll("text").attr("fill", textColor).attr("font-size", 12).attr("x", 0)
            .style("font-family", '"Open Sans", sans-serif')
    }
    const priceFormat = d => d === 0 ? "0.0000" : d3.format(".2f")(d)
    const rightAxis = (scale, ticks, format) => svg.append("g")
        .attr("transform", `translate(${dimensions.axisX},0)`)
        .call(d3.axisRight(scale).tickValues(ticks).tickSize(0).tickFormat(format))
        .call(styleAxis)
    rightAxis(yPrice, priceTicks, priceFormat)
    rightAxis(yRsi, rsiTicks, d3.format(".2f"))
    rightAxis(yMacd, macdTicks, d3.format(".2f"))

    svg.append("g")
        .attr("transform", "translate(0,1577)")
        .call(d3.axisBottom(xScale)
            .tickValues(tickDates.map(d => new Date(d)))
            .tickSize(0)
            .tickFormat((d, i) => tickLabels[i]))
        .call(g => {
            g.select(".domain").remove()
            g.selectAll("text")
                .attr("fill", textColor)
                .attr("font-size", 12)
                .attr("y", 3)
                .style("font-family", '"Open Sans", sans-serif')
                .attr("font-weight", (d, i) => tickLabels[i] === "Jul" ? 400 : 700)
        })

    // Value tags on the right axis
    const tags = [
        ["24.86", 469.7, "#0e7c7b", 43], ["23.93", 486.7, "#3a82ad", 43], ["23.43", 503.5, "#f23645", 43],
        ["22.91", 520.7, "#3a82ad", 43], ["22.32", 537.7, "#7f2020", 43], ["19.78", 554.7, "#0e7c7b", 43],
        ["17.14\u2009M", 777.7, "#ef5350", 56], ["51.61", 1042.3, "#8e1599", 43],
        ["0.3624", 1436.5, "#f7086f", 50], ["\u22120.1007", 1453.5, "#0a8ff5", 57], ["\u22120.4631", 1470.5, "#ff6d00", 57],
    ]
    const tag = svg.append("g").selectAll("g").data(tags).join("g")
        .attr("transform", d => `translate(1858,${d[1]})`)
    tag.append("rect")
        .attr("y", -8.5).attr("height", 17).attr("width", d => d[3]).attr("fill", d => d[2])
    tag.append("text")
        .attr("x", 7).attr("dy", "0.37em").attr("font-size", 12).attr("fill", "#fff")
        .text(d => d[0])

    // Legends
    const label = (x, y, s, color, size = 12.5) => svg.append("text")
        .attr("x", x).attr("y", y).attr("dy", "0.35em")
        .attr("font-size", size).attr("fill", color).text(s)

    svg.append("circle").attr("cx", 19).attr("cy", 17).attr("r", 9).attr("fill", "#131722")
    label(13.5, 17, "G", "#fff", 9).attr("font-weight", 700)
    label(19, 17, "S", "#f23645", 9).attr("font-weight", 700)
    label(32, 17, "GameStop Corporation \u00b7 1W \u00b7 Cboe One", textColor, 16.2)

    svg.append("path").attr("d", "M348 8a9 9 0 0 0 0 18h11V8z").attr("fill", "#f0f3fa")
    svg.append("path").attr("d", "M359 8h11a9 9 0 0 1 0 18h-11z").attr("fill", "#ffe0b2")
    svg.append("rect").attr("x", 345).attr("y", 15.5).attr("width", 9).attr("height", 3).attr("rx", 1.5).attr("fill", "#868993")
    label(363, 17, "D", "#ff9800", 12).attr("font-weight", 700)

    const red = "#f23645"
    label(387.5, 17, "O", textColor); label(398, 17, "23.55", red)
    label(435, 17, "H", textColor); label(446, 17, "24.09", red)
    label(483.5, 17, "L", textColor); label(491, 17, "23.09", red)
    label(528.6, 17, "C", textColor); label(537.5, 17, "23.43", red)
    label(574.5, 17, "\u22120.14", red); label(608, 17, "(\u22120.59%)", red)

    label(10.7, 41.7, "Vol", textColor); label(37, 41.7, "17.14\u2009M", "#f7727c")
    label(10.7, 65.7, "BB", textColor); label(29.5, 65.7, "20 close 2", mutedColor)
    label(96.4, 65.7, "22.32", "#7f2020"); label(133, 65.7, "24.86", "#1f8f8c"); label(170.5, 65.7, "19.78", "#1f8f8c")
    label(10.7, 90, "MA", textColor); label(33.5, 90, "50 close", mutedColor); label(89.3, 90, "23.93", maColor)
    label(10.7, 113.7, "MA", textColor); label(33.5, 113.7, "200 close", mutedColor); label(96.4, 113.7, "22.91", maColor)
    label(10.7, 802.7, "RSI", textColor); label(32.5, 802.7, "14 close", mutedColor); label(87.6, 802.7, "51.61", "#9c27b0")
    label(10.4, 1195.7, "MACD", textColor); label(50, 1195.7, "12 26 close 9", mutedColor)
    label(134.7, 1195.7, "0.3624", "#f7086f"); label(179.4, 1195.7, "\u22120.1007", "#2196f3"); label(230.9, 1195.7, "\u22120.4631", "#ff6d00")

    // Collapse button
    svg.append("rect").attr("x", 10.5).attr("y", 128.5).attr("width", 28).attr("height", 20).attr("rx", 3)
        .attr("fill", "#fff").attr("stroke", "#e0e3eb")
    svg.append("path").attr("d", "M21 141l3.5-3.5 3.5 3.5").attr("fill", "none").attr("stroke", textColor).attr("stroke-width", 1.4)

    // TradingView mark
    svg.append("circle").attr("cx", 30).attr("cy", 1540).attr("r", 16.5).attr("fill", "#fff").attr("stroke", "#f0f3fa").attr("stroke-width", 1.5)
    svg.append("g").attr("transform", "translate(19.5,1534.5) scale(0.6)").attr("fill", textColor)
        .call(g => {
            g.append("path").attr("d", "M14 0H0v7h7v12h7z")
            g.append("circle").attr("cx", 20).attr("cy", 4).attr("r", 4)
            g.append("path").attr("d", "M28 19h-8L27 0h8z")
        })

    // Settings hexagon
    svg.append("path").attr("d", "M1888 1577.5l6.5 3.75v7.5l-6.5 3.75-6.5-3.75v-7.5z").attr("fill", "none").attr("stroke", textColor)
    svg.append("circle").attr("cx", 1888).attr("cy", 1585).attr("r", 2.2).attr("fill", "none").attr("stroke", textColor)
}
drawChart();
</script>
</body>
</html>
